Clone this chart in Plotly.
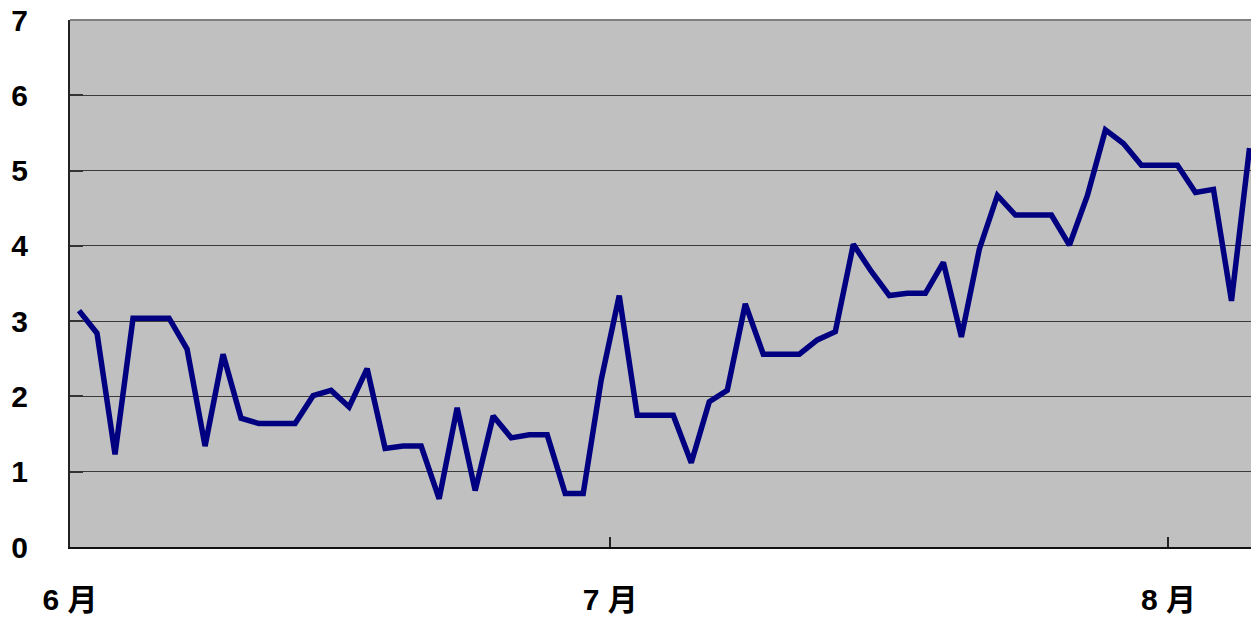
import plotly.graph_objects as go
import pandas as pd

# Daily values, June 1 - August 5
values = [
    3.14, 2.84, 1.23, 3.04, 3.04, 3.04, 2.63, 1.34, 2.56, 1.71,
    1.64, 1.64, 1.64, 2.01, 2.08, 1.86, 2.37, 1.31, 1.34, 1.34,
    0.64, 1.85, 0.75, 1.74, 1.45, 1.49, 1.49, 0.71, 0.71, 2.22,
    3.34, 1.75, 1.75, 1.75, 1.12, 1.93, 2.08, 3.23, 2.56, 2.56,
    2.56, 2.75, 2.86, 4.02, 3.66, 3.34, 3.37, 3.37, 3.78, 2.79,
    3.96, 4.67, 4.41, 4.41, 4.41, 4.01, 4.67, 5.54, 5.36, 5.07,
    5.07, 5.07, 4.71, 4.75, 3.27, 5.30,
]
start_date = "2008-06-01"
dates = pd.date_range(start_date, periods=len(values), freq="D") + pd.Timedelta(hours=12)

month_ticks = ["2008-06-01", "2008-07-01", "2008-08-01"]
month_labels = ["6 月", "7 月", "8 月"]
y_ticks = [0, 1, 2, 3, 4, 5, 6, 7]

font_family = "Liberation Sans, Noto Sans CJK JP, sans-serif"

fig = go.Figure()
fig.add_trace(go.Scatter(
    x=dates, y=values, mode="lines",
    line=dict(color="#000080", width=5.5),
    hoverinfo="skip",
))

# page body has an 8px margin, so the figure is sized/margined to compensate
fig.update_layout(
    width=1243, height=609,
    margin=dict(l=62, r=0, t=12, b=70, autoexpand=False),
    paper_bgcolor="white",
    plot_bgcolor="#C0C0C0",
    showlegend=False,
    font=dict(family=font_family, size=30, color="black", weight="bold"),
)
fig.update_xaxes(
    type="date",
    range=["2008-06-01 00:00", "2008-08-05 14:00"],
    tickmode="array", tickvals=month_ticks, ticktext=month_labels,
    ticks="inside", ticklen=10, tickwidth=2, tickcolor="#222222",
    showgrid=False, zeroline=False,
    showline=True, linecolor="#111111", linewidth=2,
    ticklabelstandoff=25, automargin=False, ticklabeloverflow="allow",
    tickfont=dict(family=font_family, size=30, weight="bold"),
)
fig.update_yaxes(
    range=[0, 7],
    tickmode="array", tickvals=y_ticks,
    ticks="inside", ticklen=13, tickwidth=2, tickcolor="#333333",
    showgrid=True, gridcolor="#3a3a3a", gridwidth=1,
    zeroline=False,
    showline=True, linecolor="#222222", linewidth=2,
    ticklabelstandoff=34, automargin=False, ticklabeloverflow="allow",
    tickfont=dict(family=font_family, size=30, weight="bold"),
)
fig.add_shape(type="line", xref="paper", yref="paper", x0=0, x1=1, y0=1, y1=1,
              line=dict(color="#808080", width=2))

fig.write_html("out.html")
